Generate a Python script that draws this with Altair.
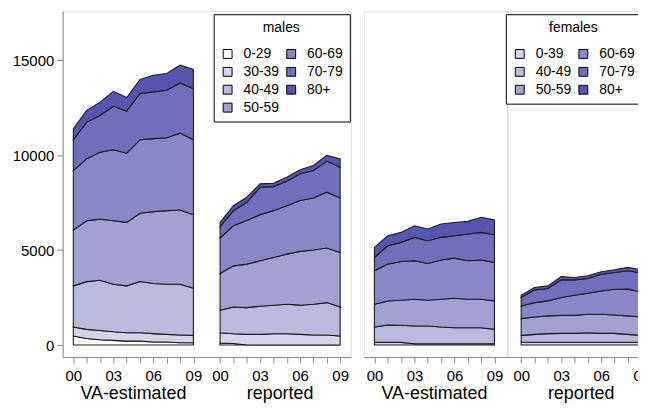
import json
import altair as alt
import pandas as pd

# ---------------- data (deaths per age band, years 2000-2009) ----------------
years = ["00", "01", "02", "03", "04", "05", "06", "07", "08", "09"]
tick_labels = ["00", "03", "06", "09"]
sources = ["VA-estimated", "reported"]

male_groups = ["0-29", "30-39", "40-49", "50-59", "60-69", "70-79", "80+"]
female_groups = ["0-39", "40-49", "50-59", "60-69", "70-79", "80+"]

male_va = {
    "0-29":  [475, 350, 280, 245, 210, 210, 160, 160, 125, 125],
    "30-39": [475, 475, 490, 455, 440, 440, 440, 405, 405, 385],
    "40-49": [2165, 2515, 2640, 2500, 2465, 2695, 2640, 2640, 2675, 2480],
    "50-59": [2940, 3205, 3220, 3345, 3345, 3590, 3785, 3870, 3905, 3870],
    "60-69": [3130, 3260, 3520, 3735, 3640, 3875, 3840, 3840, 4045, 3945],
    "70-79": [1620, 1930, 1935, 2285, 2215, 2430, 2460, 2500, 2640, 2690],
    "80+":   [580, 620, 700, 790, 710, 740, 880, 880, 935, 1020],
}
male_rep = {
    "0-29":  [100, 80, 0, 0, 0, 0, 0, 0, 0, 0],
    "30-39": [550, 515, 565, 565, 595, 595, 565, 530, 530, 475],
    "40-49": [1180, 1410, 1405, 1480, 1500, 1550, 1535, 1620, 1705, 1530],
    "50-59": [1935, 2165, 2290, 2390, 2515, 2640, 2830, 2850, 2875, 2865],
    "60-69": [1870, 2110, 2290, 2430, 2465, 2550, 2675, 2745, 2935, 2870],
    "70-79": [595, 790, 965, 1440, 1265, 1285, 1410, 1440, 1640, 1615],
    "80+":   [225, 265, 265, 180, 175, 210, 210, 265, 300, 445],
}
female_va = {
    "0-39":  [140, 140, 140, 70, 70, 70, 70, 70, 70, 70],
    "40-49": [810, 915, 900, 935, 935, 880, 845, 845, 845, 760],
    "50-59": [1200, 1265, 1320, 1410, 1355, 1465, 1550, 1500, 1500, 1495],
    "60-69": [1760, 1940, 2040, 2020, 1930, 2060, 2110, 2020, 2060, 2020],
    "70-79": [700, 965, 1005, 1230, 1200, 1195, 1175, 1410, 1455, 1465],
    "80+":   [530, 530, 525, 615, 620, 705, 700, 665, 795, 775],
}
female_rep = {
    "0-39":  [150, 150, 150, 150, 150, 150, 150, 150, 150, 150],
    "40-49": [360, 415, 450, 465, 465, 500, 465, 465, 415, 360],
    "50-59": [880, 915, 935, 950, 950, 970, 1005, 970, 970, 970],
    "60-69": [670, 755, 790, 935, 1055, 1110, 1230, 1355, 1410, 1320],
    "70-79": [440, 670, 650, 935, 810, 775, 880, 880, 970, 985],
    "80+":   [125, 125, 140, 175, 125, 140, 125, 140, 175, 175],
}

male_colors = ["#ffffff", "#d4d4ea", "#babadf", "#a1a1d3", "#8888c8", "#6f6fbd", "#5656b1"]
female_colors = male_colors[1:]

y_ticks = [0, 5000, 10000, 15000]

FONT = "Liberation Sans"
GAP = 11  # reported series starts at this x offset


def build_df(groups, va, rep):
    rows = []
    for src, block in zip(sources, [va, rep]):
        for gi, g in enumerate(groups):
            for yi, v in enumerate(block[g]):
                rows.append({"source": src, "age": g, "order": gi, "year": yi, "deaths": v})
    return pd.DataFrame(rows)


# tick positions / labels
positions = list(range(len(years))) + [GAP + i for i in range(len(years))]
label_arr = [""] * (GAP + len(years))
for i, y in enumerate(years):
    lab = y if y in tick_labels else ""
    label_arr[i] = lab
    label_arr[GAP + i] = lab
label_expr = json.dumps(label_arr) + "[datum.value]"

xscale = alt.Scale(domain=[-0.8, GAP + len(years) - 1 + 0.8], nice=False, zero=False)
yscale = alt.Scale(domain=[-630, 17570], nice=False, zero=False)

xaxis = alt.Axis(values=positions, labelExpr=label_expr, title=None, tickSize=6,
                 labelPadding=6, labelFontSize=15, labelOverlap=False,
                 labelFlush=False, labelBound=False, grid=False)


def panel(groups, va, rep, colors, title, show_y, divider, legend_x):
    df = build_df(groups, va, rep)

    if show_y:
        yaxis = alt.Axis(values=y_ticks, format="d", title=None, tickSize=6,
                         labelPadding=3, labelFontSize=15, grid=False,
                         labelOverlap=False)
    else:
        yaxis = None

    area = alt.Chart(df).transform_calculate(
        pos=f"datum.year + (datum.source == 'reported' ? {GAP} : 0)"
    ).transform_stack(
        stack="deaths", groupby=["source", "pos"], as_=["y0", "y1"],
        sort=[alt.SortField("order", order="ascending")]
    ).mark_area(stroke="#1c1c1c", strokeWidth=1.1, interpolate="linear", clip=True).encode(
        x=alt.X("pos:Q", scale=xscale, axis=xaxis),
        y=alt.Y("y1:Q", scale=yscale, axis=yaxis),
        y2="y0:Q",
        color=alt.Color("age:N", scale=alt.Scale(domain=groups, range=colors),
                        legend=alt.Legend(
                            orient="none", legendX=legend_x, legendY=3, columns=2,
                            title=title, titleAnchor="middle", titleFontSize=14,
                            titleFontWeight="normal", titleFont=FONT, titleColor="black",
                            titlePadding=12, labelFontSize=14, labelFont=FONT,
                            labelColor="black", labelOffset=9, symbolType="square",
                            symbolSize=80, symbolStrokeColor="black",
                            symbolStrokeWidth=1, strokeColor="black", fillColor="white",
                            padding=7, rowPadding=4, columnPadding=5)),
        detail="source:N",
        order=alt.Order("order:Q"),
    )

    lab_df = pd.DataFrame({
        "source": sources,
        "pos": [(len(years) - 1) / 2, GAP + (len(years) - 1) / 2],
    })
    labels = alt.Chart(lab_df).mark_text(fontSize=18, font=FONT, baseline="alphabetic",
                                          color="black").encode(
        x=alt.X("pos:Q", scale=xscale, axis=xaxis),
        y=alt.value(390),
        text="source:N",
    )
    layers = [area, labels]
    if divider:
        rule = alt.Chart(pd.DataFrame({"pos": [GAP - 1]})).mark_rule(
            color="#c4c4c4", strokeWidth=1).encode(
            x=alt.X("pos:Q", scale=xscale, axis=xaxis))
        layers = [rule] + layers
    return alt.layer(*layers).properties(width=290, height=348).resolve_scale(color="independent")


left = panel(male_groups, male_va, male_rep, male_colors, "males", True, False, 152)
right = panel(female_groups, female_va, female_rep, female_colors, "females", False, True, 143)

chart = alt.hconcat(left, right, spacing=11).resolve_scale(
    color="independent", y="independent", x="independent"
).properties(
    padding={"left": 3, "top": 1, "right": -15, "bottom": -1}
).configure_view(
    stroke="black", strokeWidth=1
).configure_axis(
    labelFont=FONT, labelColor="black", tickColor="black", domainColor="black",
    domainWidth=1, tickWidth=1, labelOverlap=False
).configure(background="white")

chart.save("out.html", embed_options={"renderer": "svg", "actions": False})
